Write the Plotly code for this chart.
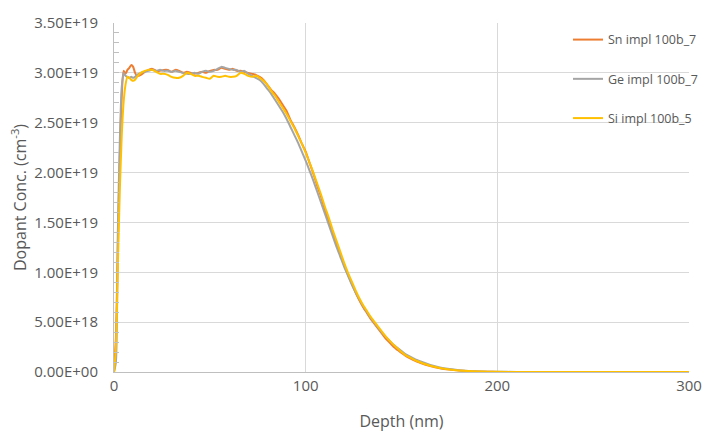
import plotly.graph_objects as go

depth_nm = [0, 1, 2, 3, 4, 5, 6, 7, 8, 9, 10, 11, 12,
            14, 16, 18, 20, 22, 24, 26, 28, 30, 32, 34, 36, 38, 40, 42, 44, 46, 48,
            50, 52, 54, 56, 58, 60, 62, 64, 66, 68, 70, 72, 74, 76, 78, 80, 82, 84, 86, 88,
            90, 92, 94, 96, 98, 100, 102, 104, 106, 108, 110, 112, 114, 116, 118, 120,
            122, 124, 126, 128, 130, 132, 134, 136, 138, 140, 142, 144, 146, 148, 150,
            152, 154, 156, 158, 160,
            165, 170, 175, 180, 185, 190, 195, 200,
            210, 220, 230, 240, 250, 260, 270, 280, 290, 300]

# concentrations in units of 1E19 cm^-3
sn_impl_100b_7 = [0.0, 0.35, 1.25, 2.15, 2.75, 3.02, 2.99, 3.03, 3.05, 3.08, 3.06, 3.00, 2.97,
                  2.98, 3.01, 3.03, 3.04, 3.02, 3.02, 3.03, 3.03, 3.01, 3.03, 3.02, 3.00, 3.01, 3.00, 2.99, 3.00, 3.01, 3.00,
                  3.02, 3.03, 3.03, 3.05, 3.04, 3.03, 3.04, 3.02, 3.02, 3.01, 3.00, 2.99, 2.98, 2.96, 2.93, 2.88, 2.83, 2.79, 2.74, 2.68,
                  2.62, 2.53, 2.46, 2.38, 2.29, 2.21, 2.10, 1.99, 1.87, 1.76, 1.63, 1.51, 1.40, 1.29, 1.18, 1.08,
                  0.98, 0.89, 0.80, 0.72, 0.65, 0.59, 0.53, 0.48, 0.43, 0.38, 0.33, 0.29, 0.25, 0.22, 0.19,
                  0.165, 0.142, 0.122, 0.105, 0.09,
                  0.06, 0.038, 0.024, 0.014, 0.008, 0.0045, 0.0025, 0.0012,
                  0.0005, 0.0002, 0, 0, 0, 0, 0, 0, 0, 0]

ge_impl_100b_7 = [0.0, 0.10, 1.40, 2.30, 2.85, 3.00, 2.97, 2.96, 2.95, 2.96, 2.95, 2.96, 2.98,
                  3.00, 3.01, 3.02, 3.03, 3.02, 3.03, 3.02, 3.02, 3.01, 3.02, 3.01, 3.00, 2.99, 2.99, 3.00, 2.99, 3.01, 3.02,
                  3.01, 3.02, 3.04, 3.06, 3.05, 3.04, 3.03, 3.03, 3.01, 3.02, 2.99, 2.97, 2.95, 2.93, 2.89, 2.84, 2.79, 2.73, 2.67, 2.61,
                  2.54, 2.46, 2.38, 2.30, 2.21, 2.12, 2.02, 1.92, 1.81, 1.70, 1.59, 1.48, 1.37, 1.26, 1.16, 1.06,
                  0.97, 0.88, 0.80, 0.73, 0.66, 0.60, 0.54, 0.49, 0.44, 0.39, 0.35, 0.31, 0.27, 0.24, 0.21,
                  0.18, 0.16, 0.14, 0.12, 0.105,
                  0.07, 0.045, 0.029, 0.018, 0.011, 0.006, 0.0035, 0.002,
                  0.0008, 0.0003, 0, 0, 0, 0, 0, 0, 0, 0]

si_impl_100b_5 = [0.0, 0.25, 1.05, 1.80, 2.35, 2.70, 2.88, 2.96, 2.95, 2.93, 2.92, 2.93, 2.96,
                  3.00, 3.02, 3.03, 3.03, 3.01, 2.99, 2.99, 2.98, 2.96, 2.95, 2.95, 2.97, 3.00, 2.99, 2.97, 2.97, 2.96, 2.95,
                  2.94, 2.97, 2.96, 2.96, 2.97, 2.96, 2.96, 2.97, 3.00, 2.99, 2.97, 2.96, 2.97, 2.95, 2.92, 2.88, 2.82, 2.77, 2.71, 2.65,
                  2.59, 2.52, 2.45, 2.37, 2.29, 2.20, 2.10, 2.00, 1.89, 1.78, 1.66, 1.55, 1.43, 1.32, 1.21, 1.10,
                  1.00, 0.91, 0.82, 0.74, 0.67, 0.61, 0.55, 0.50, 0.45, 0.40, 0.35, 0.31, 0.27, 0.235, 0.20,
                  0.17, 0.15, 0.13, 0.11, 0.095,
                  0.062, 0.04, 0.025, 0.015, 0.009, 0.005, 0.003, 0.0015,
                  0.0006, 0.0002, 0, 0, 0, 0, 0, 0, 0, 0]

series_names = ["Sn impl 100b_7", "Ge impl 100b_7", "Si impl 100b_5"]
series_colors = ["#ED7D31", "#A5A5A5", "#FFC000"]

y_tick_vals = [0, 0.5e19, 1.0e19, 1.5e19, 2.0e19, 2.5e19, 3.0e19, 3.5e19]
y_tick_text = ["0.00E+00", "5.00E+18", "1.00E+19", "1.50E+19", "2.00E+19",
               "2.50E+19", "3.00E+19", "3.50E+19"]
x_tick_vals = [0, 100, 200, 300]

FONT = "Open Sans"
TXT = "#595959"
GRID = "#D9D9D9"
AXIS = "#BFBFBF"

fig = go.Figure()
for i, (name, vals) in enumerate(zip(series_names, [sn_impl_100b_7, ge_impl_100b_7, si_impl_100b_5])):
    fig.add_trace(go.Scatter(
        x=depth_nm, y=[v * 1e19 for v in vals], mode="lines", name=name,
        legendgroup=f"g{i}",
        line=dict(color=series_colors[i], width=2, shape="spline", smoothing=0.6),
    ))

fig.update_layout(
    width=718, height=441,
    margin=dict(l=114, r=29, t=16, b=69),
    paper_bgcolor="white", plot_bgcolor="white",
    font=dict(family=FONT, color=TXT, size=15),
    showlegend=True,
    legend=dict(
        x=(568 - 114) / 575, y=(372 - 18) / 356, xanchor="left", yanchor="top",
        bgcolor="rgba(0,0,0,0)", font=dict(family=FONT, size=12.5, color=TXT),
        traceorder="grouped", tracegroupgap=20, itemwidth=30,
    ),
    xaxis=dict(
        range=[0, 300], tickmode="array", tickvals=x_tick_vals,
        showgrid=True, gridcolor=GRID, gridwidth=1,
        showline=True, linecolor=AXIS, linewidth=1,
        ticks="", zeroline=False,
        tickfont=dict(family=FONT, size=15, color=TXT),
        title=dict(text="Depth (nm)", font=dict(family=FONT, size=16, color=TXT), standoff=21),
    ),
    yaxis=dict(
        range=[0, 3.5e19], tickmode="array", tickvals=y_tick_vals, ticktext=y_tick_text,
        showgrid=True, gridcolor=GRID, gridwidth=1,
        showline=True, linecolor=AXIS, linewidth=1,
        ticks="inside", ticklen=5, tickcolor=AXIS, zeroline=False,
        ticklabelstandoff=12,
        minor=dict(tickmode="linear", tick0=0, dtick=1e18, ticks="inside", ticklen=5,
                   tickcolor=AXIS, showgrid=False),
        tickfont=dict(family=FONT, size=15, color=TXT),
        title=dict(text="Dopant Conc. (cm<sup>-3</sup>)", font=dict(family=FONT, size=16, color=TXT), standoff=3),
    ),
)

fig.write_html("out.html")
